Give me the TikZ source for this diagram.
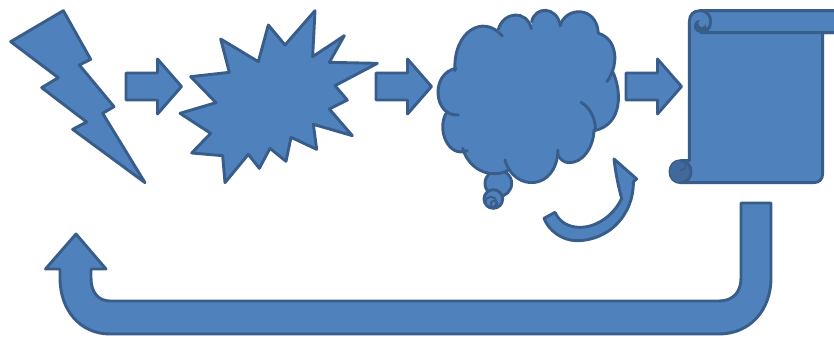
\documentclass[tikz,border=0pt]{standalone}
\definecolor{shapefill}{HTML}{4F81BD}
\definecolor{shapeline}{HTML}{385D8A}
\definecolor{rollshade}{HTML}{41699B}
\tikzset{
  shp/.style={fill=shapefill,draw=shapeline,line width=2.9pt,line join=round},
  edgeonly/.style={draw=shapeline,line width=2.9pt,line cap=round},
  zoomA/.style={x=0.33333pt,y=-0.33333pt}
}
\begin{document}
\begin{tikzpicture}[x=1pt,y=-1pt]
\useasboundingbox (0,0) rectangle (834,337);
\fill[white] (0,0) rectangle (834,337);
% lightning and burst
\begin{scope}[zoomA]
\path[shp] (190,32)--(272,178)--(238,195)--(342,320)--(308,340)--(435,548)--(218,388)--(260,366)--(125,263)--(175,233)--(32,125)--cycle;
\path[shp] (945,32)--(938,170)--(1033,107)--(988,187)--(1132,190)--(1005,257)--(1042,300)--(988,327)--(1057,407)--(940,373)--(950,448)--(873,412)--(858,484)--(810,445)--(778,505)--(745,463)--(675,548)--(668,467)--(575,459)--(632,400)--(540,340)--(648,308)--(572,230)--(688,217)--(662,117)--(775,185)--(805,75)--(855,135)--cycle;
\end{scope}
% block arrows
\foreach \dx in {126,376,626}{
  \path[shp] (\dx,73)--(\dx+31.5,73)--(\dx+31.5,59)--(\dx+55.5,86.5)--(\dx+31.5,114)--(\dx+31.5,100)--(\dx,100)--cycle;
}
% thought cloud
\begin{scope}[zoomA,shift={(420pt,0pt)}]
\path[shp] (235,550) circle[radius=40];
\path[shp] (220,597) circle[radius=28];
\draw[edgeonly,line width=1.8pt] (213,607) circle[radius=17];
\draw[edgeonly,line width=1.8pt] (222,612) circle[radius=10];
\fill[shapefill] (105,212)
  .. controls (98,95) and (190,40) .. (247,108) -- (235,88)
  .. controls (250,35) and (320,27) .. (334,86) -- (335,65)
  .. controls (345,18) and (410,18) .. (421,76) -- (420,78)
  .. controls (435,20) and (530,15) .. (535,100)
  .. controls (590,115) and (600,190) .. (561,245) -- (578,215)
  .. controls (605,270) and (610,375) .. (522,392)
  .. controls (520,440) and (490,490) .. (445,488)
  .. controls (432,487) and (420,478) .. (414,465) -- (414,450)
  .. controls (410,575) and (280,575) .. (255,480) -- (265,510)
  .. controls (225,535) and (150,520) .. (128,445) -- (142,452)
  .. controls (85,475) and (50,390) .. (78,340) -- (115,345)
  .. controls (40,350) and (30,220) .. (108,205) -- cycle;
\draw[edgeonly] (105,212) .. controls (98,95) and (190,40) .. (247,108);
\draw[edgeonly] (235,88) .. controls (250,35) and (320,27) .. (334,86);
\draw[edgeonly] (335,65) .. controls (345,18) and (410,18) .. (421,76);
\draw[edgeonly] (420,78) .. controls (435,20) and (530,15) .. (535,100);
\draw[edgeonly] (535,100) .. controls (590,115) and (600,190) .. (561,245);
\draw[edgeonly] (578,215) .. controls (605,270) and (610,375) .. (522,392);
\draw[edgeonly] (483,307) .. controls (530,335) and (530,400) .. (522,392) .. controls (520,440) and (490,490) .. (445,488) .. controls (432,487) and (420,478) .. (414,465);
\draw[edgeonly] (414,450) .. controls (410,575) and (280,575) .. (255,480);
\draw[edgeonly] (265,510) .. controls (225,535) and (150,520) .. (128,445);
\draw[edgeonly] (142,452) .. controls (85,475) and (50,390) .. (78,340);
\draw[edgeonly] (115,345) .. controls (40,350) and (30,220) .. (108,205);
\end{scope}
% curved arrow
\begin{scope}[zoomA,shift={(420pt,0pt)}]
\path[shp] (582,477)--(650,537)--(640,545)
  .. controls (642,640) and (570,722) .. (470,722)
  .. controls (425,722) and (385,690) .. (372,655)
  --(405,637)
  .. controls (420,670) and (450,682) .. (480,682)
  .. controls (535,682) and (585,640) .. (605,595)
  .. controls (595,560) and (587,520) .. (582,477) -- cycle;
\end{scope}
% scroll
\begin{scope}[zoomA,shift={(620pt,0pt)}]
\path[shp] (208,65) .. controls (208,45) and (220,32) .. (240,32) -- (660,32) -- (660,98) -- (608,98) -- (608,520)
  .. controls (608,538) and (598,548) .. (580,548) -- (183,548)
  .. controls (163,548) and (150,535) .. (150,515)
  .. controls (150,495) and (163,482) .. (183,482) -- (208,482) -- cycle;
\fill[shapeline] (240,60) .. controls (225,60) and (222,72) .. (222,80) .. controls (222,92) and (232,98) .. (240,98) -- (262,90) -- (255,70) -- cycle;
\fill[shapefill] (246,70) circle[radius=11];
\fill[rollshade] (183,482) .. controls (160,482) and (150,500) .. (150,515) .. controls (150,535) and (163,548) .. (183,548) .. controls (200,548) and (213,535) .. (213,515) .. controls (213,497) and (200,482) .. (183,482) -- cycle;
\draw[edgeonly,line width=1.5pt] (196,490) -- (196,505) -- (180,512);
\draw[edgeonly] (240,32) .. controls (262,32) and (272,48) .. (272,65) .. controls (272,85) and (258,98) .. (240,98) -- (660,98);
\draw[edgeonly] (183,482) .. controls (200,482) and (213,497) .. (213,515) .. controls (213,535) and (200,548) .. (183,548);
\end{scope}
% U-turn arrow
\path[shp] (741,203)--(771,203)--(771,278)
  .. controls (771,310) and (750,334) .. (719,334)
  -- (110,334)
  .. controls (80,334) and (60,310) .. (60,278)
  -- (60,269)--(45.5,269)--(76,234)--(106,269)--(91,269)--(91,278)
  .. controls (91,292) and (98,301) .. (110,301)
  -- (719,301)
  .. controls (733,301) and (741,292) .. (741,278) -- cycle;
\end{tikzpicture}
\end{document}
